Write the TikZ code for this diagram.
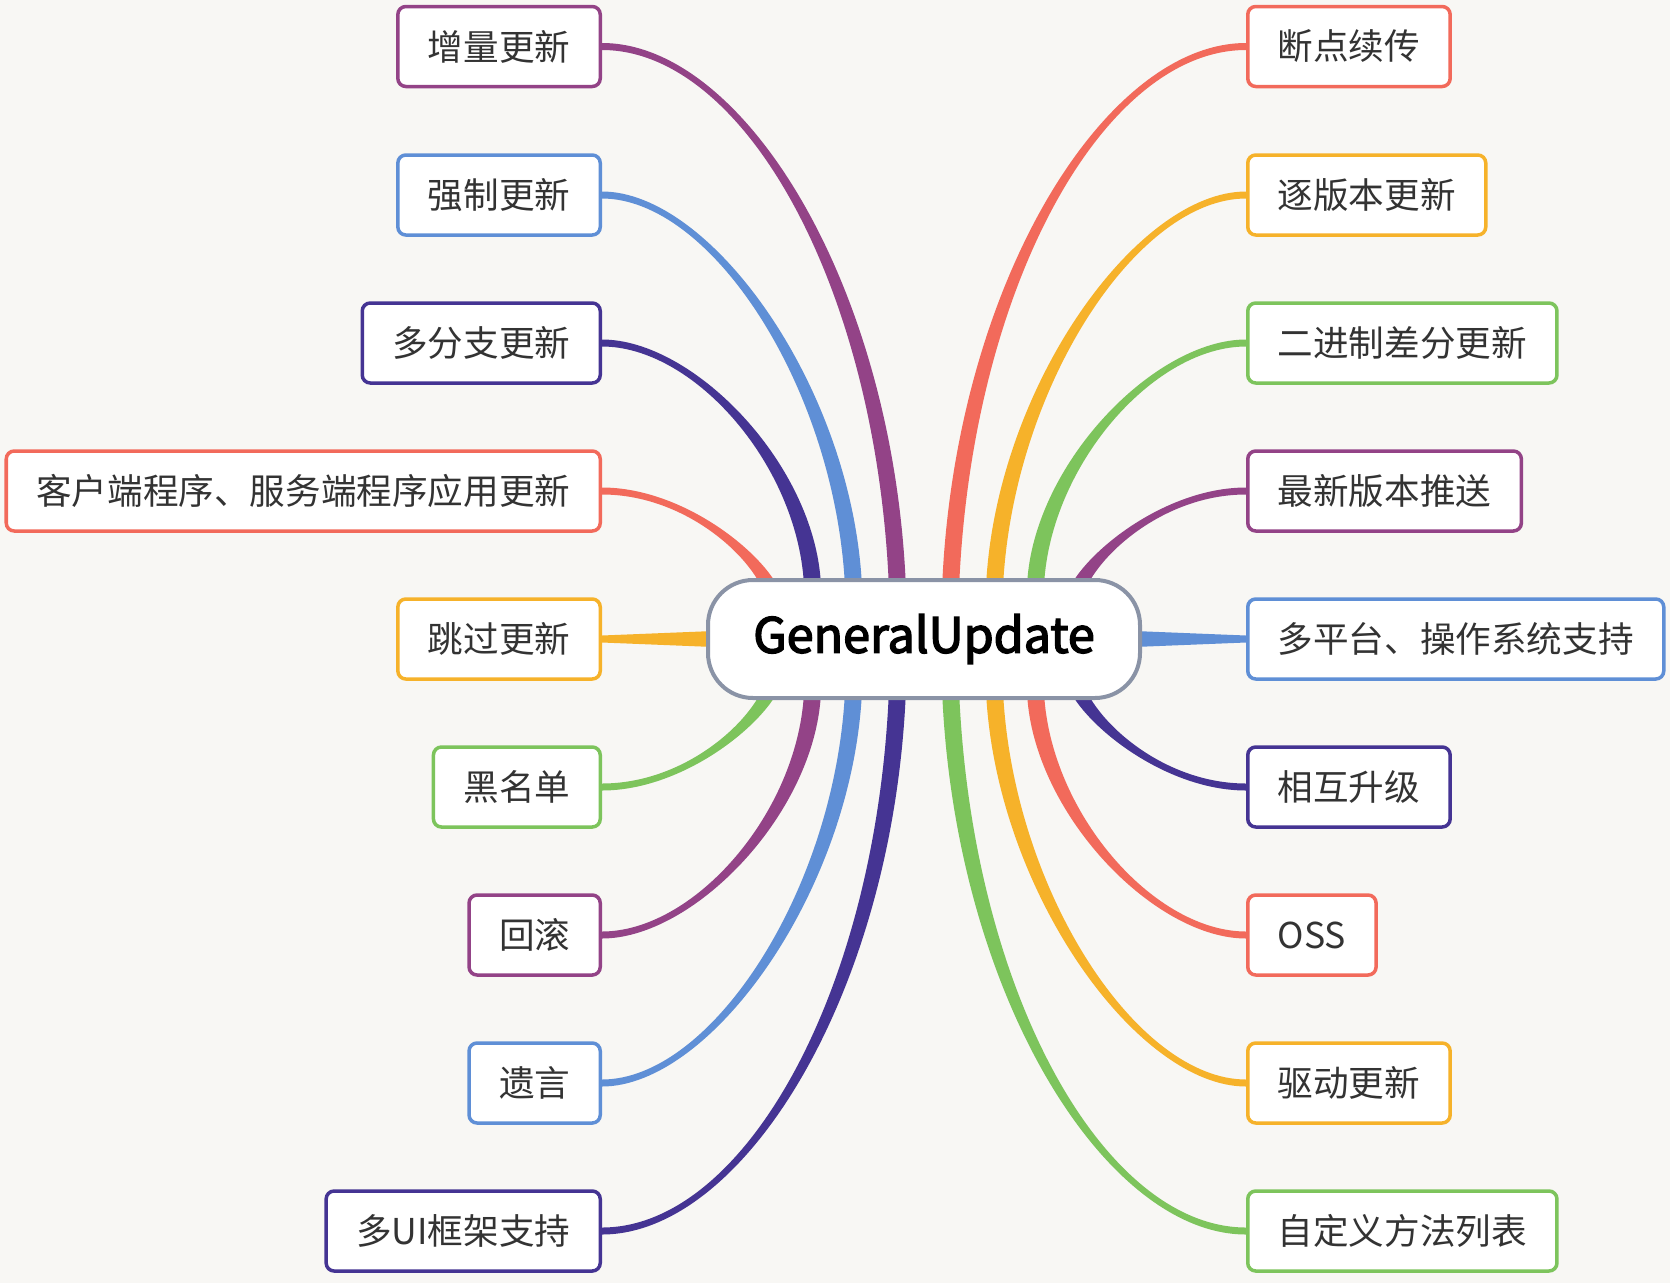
\documentclass[tikz,border=0pt]{standalone}
\usepackage{fontspec}
\setmainfont{Noto Sans CJK SC}
\newfontfamily\rootfont{Noto Sans CJK SC}[FakeBold=3]
\usetikzlibrary{calc}
\pgfdeclarelayer{background}
\pgfdeclarelayer{branches}
\pgfsetlayers{background,branches,main}

% half widths of a branch at the central topic and at the leaf
\def\rootw{8.5}
\def\tipw{3.5}
% tapered branch: colour, start, end, start control (x,y), end control x, side
\newcommand{\branch}[7]{%
  \fill[#1] ($(#2)+(-\rootw,0)$)
  .. controls ($(#2)+({#4-\rootw},#5)$) and ($(#3)+(#6,{(#7)*\tipw})$) .. ($(#3)+(0,{(#7)*\tipw})$)
  -- ($(#3)+(0,{-(#7)*\tipw})$)
  .. controls ($(#3)+(#6,{-(#7)*\tipw})$) and ($(#2)+({#4+\rootw},#5)$) .. ($(#2)+(\rootw,0)$)
  -- cycle;}

\begin{document}
\begin{tikzpicture}[x=1pt, y=-1pt,
	leaf/.style={draw=#1, fill=white, line width=3.5pt, rounded corners=8pt,
		minimum height=80pt, inner xsep=30pt, inner ysep=0pt, text=textgray,
		font=\fontsize{35.6}{40}\selectfont},
	root/.style={draw=rootline, fill=white, line width=4pt, rounded corners=45pt,
		minimum width=432pt, minimum height=118pt, text=black,
		font=\rootfont\fontsize{48.5}{56}\selectfont},
	]
	% Colors
	\definecolor{paper}{HTML}{F8F7F4}
	\definecolor{textgray}{HTML}{333333}
	\definecolor{rootline}{HTML}{8A93A6}
	\definecolor{cpurple}{HTML}{934387}
	\definecolor{cblue}{HTML}{5F8FD6}
	\definecolor{cindigo}{HTML}{453493}
	\definecolor{cred}{HTML}{F26A5B}
	\definecolor{corange}{HTML}{F6B22A}
	\definecolor{cgreen}{HTML}{7DC45C}
	
	\useasboundingbox (0,0) rectangle (1670,1283);
	\begin{pgfonlayer}{background}
		\fill[paper] (0,0) rectangle (1670,1283);
	\end{pgfonlayer}
	
	% Central topic
	\node[root] (gu) at (924,639) {GeneralUpdate};
	
	% Left topics
	\node[leaf=cpurple, anchor=east] (zl)  at (602,46.5) {增量更新};
	\node[leaf=cblue,   anchor=east] (qz)  at (602,195)  {强制更新};
	\node[leaf=cindigo, anchor=east] (dfz) at (602,343)  {多分支更新};
	\node[leaf=cred,    anchor=east] (kh)  at (602,491)  {客户端程序、服务端程序应用更新};
	\node[leaf=corange, anchor=east] (tg)  at (602,639)  {跳过更新};
	\node[leaf=cgreen,  anchor=east] (hmd) at (602,787)  {黑名单};
	\node[leaf=cpurple, anchor=east] (hg)  at (602,935)  {回滚};
	\node[leaf=cblue,   anchor=east] (yy)  at (602,1083) {遗言};
	\node[leaf=cindigo, anchor=east] (ui)  at (602,1231) {多UI框架支持};
	
	% Right topics
	\node[leaf=cred,    anchor=west] (dd)  at (1246,46.5) {断点续传};
	\node[leaf=corange, anchor=west] (zb)  at (1246,195)  {逐版本更新};
	\node[leaf=cgreen,  anchor=west] (ejz) at (1246,343)  {二进制差分更新};
	\node[leaf=cpurple, anchor=west] (zx)  at (1246,491)  {最新版本推送};
	\node[leaf=cblue,   anchor=west] (dpt) at (1246,639)  {多平台、操作系统支持};
	\node[leaf=cindigo, anchor=west] (xh)  at (1246,787)  {相互升级};
	\node[leaf=cred,    anchor=west] (oss) at (1246,935)  {OSS};
	\node[leaf=corange, anchor=west] (qd)  at (1246,1083) {驱动更新};
	\node[leaf=cgreen,  anchor=west] (zdy) at (1246,1231) {自定义方法列表};
	
	% Where the branches leave the central topic
	\coordinate (s-zl)  at ($(gu.north)+(-27,0)$);
	\coordinate (s-qz)  at ($(gu.north)+(-71,0)$);
	\coordinate (s-dfz) at ($(gu.north)+(-112,0)$);
	\coordinate (s-kh)  at ($(gu.north)+(-149,22)$);
	\coordinate (s-hmd) at ($(gu.south)+(-149,-22)$);
	\coordinate (s-hg)  at ($(gu.south)+(-112,0)$);
	\coordinate (s-yy)  at ($(gu.south)+(-71,0)$);
	\coordinate (s-ui)  at ($(gu.south)+(-27,0)$);
	\coordinate (s-dd)  at ($(gu.north)+(27,0)$);
	\coordinate (s-zb)  at ($(gu.north)+(71,0)$);
	\coordinate (s-ejz) at ($(gu.north)+(112,0)$);
	\coordinate (s-zx)  at ($(gu.north)+(149,22)$);
	\coordinate (s-xh)  at ($(gu.south)+(149,-22)$);
	\coordinate (s-oss) at ($(gu.south)+(112,0)$);
	\coordinate (s-qd)  at ($(gu.south)+(71,0)$);
	\coordinate (s-zdy) at ($(gu.south)+(27,0)$);
	
	% Branches
	\begin{pgfonlayer}{branches}
		\foreach \src/\dst/\col/\ax/\ay/\bx/\sg in {
			s-zl/zl.east/cpurple/-15/-298/140/1,
			s-qz/qz.east/cblue/-13/-195/108/1,
			s-dfz/dfz.east/cindigo/-10/-118/90/1,
			s-kh/kh.east/cred/-10/-40/85/1,
			s-hmd/hmd.east/cgreen/-10/40/85/-1,
			s-hg/hg.east/cpurple/-10/118/90/-1,
			s-yy/yy.east/cblue/-13/195/108/-1,
			s-ui/ui.east/cindigo/-15/298/140/-1,
			s-dd/dd.west/cred/15/-298/-140/-1,
			s-zb/zb.west/corange/13/-195/-108/-1,
			s-ejz/ejz.west/cgreen/10/-118/-90/-1,
			s-zx/zx.west/cpurple/10/-40/-85/-1,
			s-xh/xh.west/cindigo/10/40/-85/1,
			s-oss/oss.west/cred/10/118/-90/1,
			s-qd/qd.west/corange/13/195/-108/1,
			s-zdy/zdy.west/cgreen/15/298/-140/1}
		\branch{\col}{\src}{\dst}{\ax}{\ay}{\bx}{\sg};
		
		% straight ones
		\fill[corange] ($(tg.east)+(0,-\tipw)$) -- ($(gu.west)+(20,-\rootw)$)
		-- ($(gu.west)+(20,\rootw)$) -- ($(tg.east)+(0,\tipw)$) -- cycle;
		\fill[cblue] ($(dpt.west)+(0,-\tipw)$) -- ($(gu.east)+(-20,-\rootw)$)
		-- ($(gu.east)+(-20,\rootw)$) -- ($(dpt.west)+(0,\tipw)$) -- cycle;
	\end{pgfonlayer}
\end{tikzpicture}
\end{document}
